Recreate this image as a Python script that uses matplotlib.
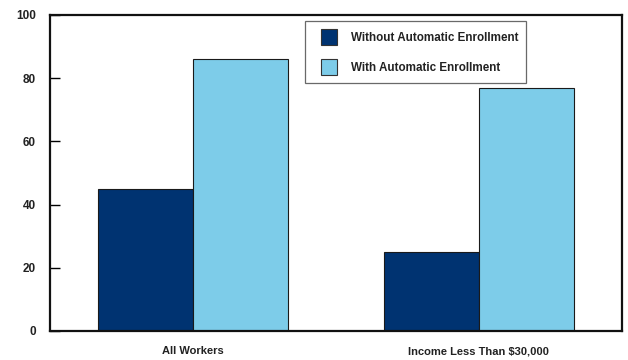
#!/usr/bin/env python3
# -*- coding: utf-8 -*-
"""
Participation rates with and without automatic enrollment, grouped bar chart
"""

import numpy as np
import matplotlib
matplotlib.use('Agg')
import matplotlib.pyplot as plt
from matplotlib.patches import Patch, Rectangle
from matplotlib.legend_handler import HandlerPatch

plt.rcParams['font.family'] = ['Liberation Sans', 'DejaVu Sans']

# Data
groups = ['All Workers', 'Income Less Than $30,000']
without_auto = [45, 25]
with_auto = [86, 77]
series_names = ['Without Automatic Enrollment', 'With Automatic Enrollment']
y_ticks = [0, 20, 40, 60, 80, 100]

dark_blue = '#003371'
light_blue = '#7dcce9'


def square_patch(legend, orig_handle, xdescent, ydescent, width, height, fontsize):
    # square swatch pushed to the right end of the handle box
    return Rectangle((-xdescent + width - height, -ydescent), height, height)


def plot_enrollment():
    fig = plt.figure(figsize=(6.28, 3.6), dpi=100)
    ax = fig.add_axes([0.0796, 0.0806, 0.9104, 0.8778])

    x = np.arange(len(groups))
    width = 0.333
    ax.bar(x - width / 2, without_auto, width, color=dark_blue,
           edgecolor='#1a1a1a', linewidth=0.8)
    ax.bar(x + width / 2, with_auto, width, color=light_blue,
           edgecolor='#1a1a1a', linewidth=0.8)

    ax.set_xlim(-0.5, 1.5)
    ax.set_ylim(0, 100)
    ax.set_yticks(y_ticks)
    ax.set_xticks(x)
    ax.set_xticklabels(groups, fontsize=8, fontweight='bold', color='#222222')
    ax.tick_params(axis='y', direction='in', length=7, width=1, pad=10,
                   labelsize=8.5, labelcolor='#222222')
    ax.tick_params(axis='x', length=0, pad=11)
    for lbl in ax.get_yticklabels():
        lbl.set_fontweight('bold')

    for spine in ax.spines.values():
        spine.set_linewidth(1.6)
        spine.set_color('#111111')

    handles = [Patch(facecolor=dark_blue, edgecolor='#333333', linewidth=0.8),
               Patch(facecolor=light_blue, edgecolor='#333333', linewidth=0.8)]
    leg = ax.legend(handles, series_names, loc='upper left',
                    bbox_to_anchor=(0.4465, 0.98), frameon=True, fancybox=False,
                    prop={'size': 8.4, 'weight': 'bold'},
                    handler_map={Patch: HandlerPatch(patch_func=square_patch)},
                    handlelength=2.05, handleheight=1.75, handletextpad=1.25,
                    labelspacing=1.2, borderpad=0.65, borderaxespad=0)
    leg.get_frame().set_edgecolor('#444444')
    leg.get_frame().set_linewidth(0.9)
    for t in leg.get_texts():
        t.set_color('#222222')

    fig.savefig('out.png', dpi=100)


if __name__ == '__main__':
    plot_enrollment()
